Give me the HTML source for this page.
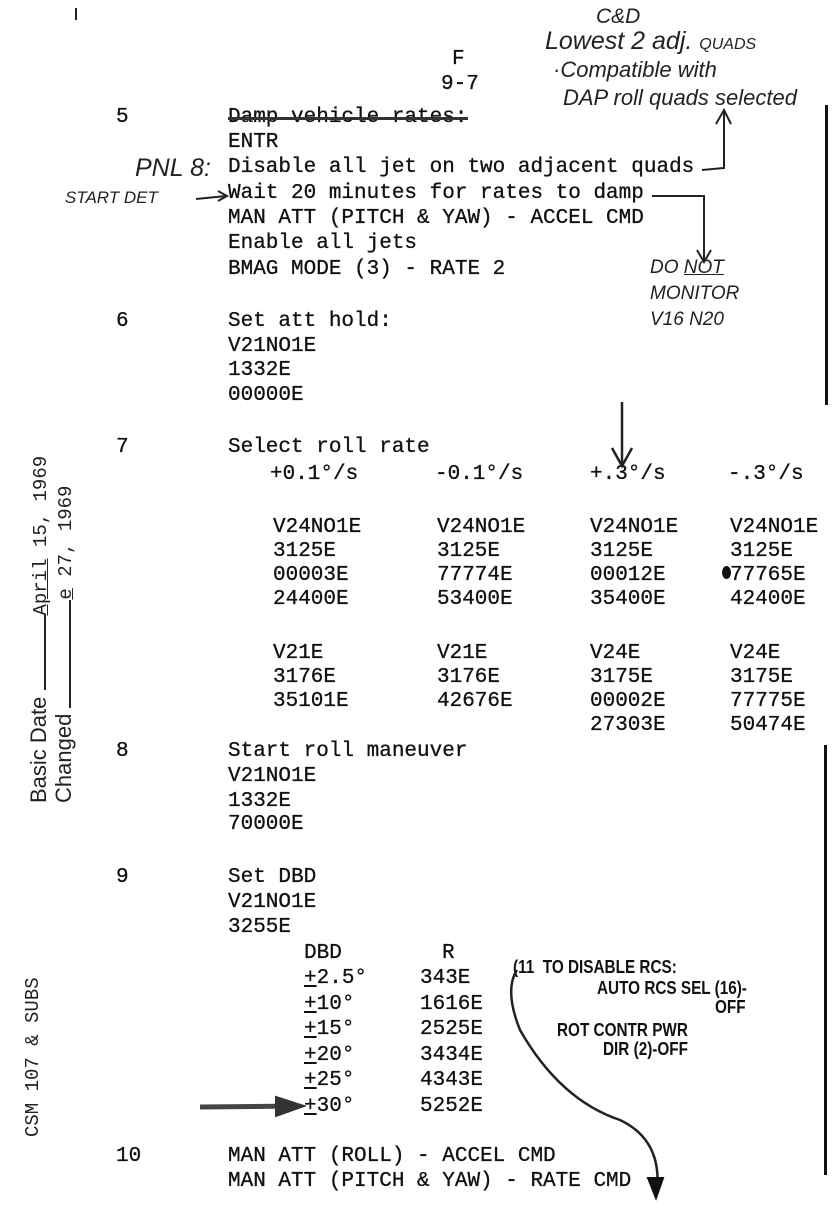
<!DOCTYPE html>
<html><head><meta charset="utf-8"><style>
html,body{margin:0;padding:0;background:#fff;}
body{width:837px;height:1214px;position:relative;overflow:hidden;color:#111;}
.t{position:absolute;font-family:"Liberation Mono",monospace;font-size:21px;line-height:24px;white-space:pre;letter-spacing:0px;color:#111;-webkit-text-stroke:0.3px #111;}
.h{position:absolute;font-family:"Liberation Sans",sans-serif;font-style:italic;white-space:pre;color:#222;line-height:1;}
.hb{position:absolute;font-family:"Liberation Sans",sans-serif;font-weight:bold;white-space:pre;color:#111;line-height:1;font-size:18px;transform:scaleX(0.85);transform-origin:left center;}
</style></head><body>
<div class="t" style="left:452px;top:48px;">F</div>
<div class="t" style="left:441px;top:73px;">9-7</div>
<div style="position:absolute;left:75px;top:8px;width:2px;height:12px;background:#222"></div>

<!-- step 5 -->
<div class="t" style="left:116px;top:106px;">5</div>
<div class="t" style="left:228px;top:106px;">Damp vehicle rates:</div>
<div style="position:absolute;left:228px;top:117px;width:240px;height:3px;background:#333"></div>
<div class="t" style="left:228px;top:131px;">ENTR</div>
<div class="t" style="left:228px;top:156px;">Disable all jet on two adjacent quads</div>
<div class="t" style="left:228px;top:182px;">Wait 20 minutes for rates to damp</div>
<div class="t" style="left:228px;top:207px;">MAN ATT (PITCH &amp; YAW) - ACCEL CMD</div>
<div class="t" style="left:228px;top:232px;">Enable all jets</div>
<div class="t" style="left:228px;top:258px;">BMAG MODE (3) - RATE 2</div>

<!-- step 6 -->
<div class="t" style="left:116px;top:310px;">6</div>
<div class="t" style="left:228px;top:310px;">Set att hold:</div>
<div class="t" style="left:228px;top:335px;">V21NO1E</div>
<div class="t" style="left:228px;top:359px;">1332E</div>
<div class="t" style="left:228px;top:384px;">00000E</div>

<!-- step 7 -->
<div class="t" style="left:116px;top:436px;">7</div>
<div class="t" style="left:228px;top:436px;">Select roll rate</div>
<div class="t" style="left:270px;top:463px;">+0.1°/s</div>
<div class="t" style="left:435px;top:463px;">-0.1°/s</div>
<div class="t" style="left:590px;top:463px;">+.3°/s</div>
<div class="t" style="left:728px;top:463px;">-.3°/s</div>

<div class="t" style="left:273px;top:516px;">V24NO1E
3125E
00003E
24400E</div>
<div class="t" style="left:437px;top:516px;">V24NO1E
3125E
77774E
53400E</div>
<div class="t" style="left:590px;top:516px;">V24NO1E
3125E
00012E
35400E</div>
<div class="t" style="left:730px;top:516px;">V24NO1E
3125E
77765E
42400E</div>
<div style="position:absolute;left:722px;top:566px;width:9px;height:13px;border-radius:50%;background:#111"></div>

<div class="t" style="left:273px;top:642px;">V21E
3176E
35101E</div>
<div class="t" style="left:437px;top:642px;">V21E
3176E
42676E</div>
<div class="t" style="left:590px;top:642px;">V24E
3175E
00002E
27303E</div>
<div class="t" style="left:730px;top:642px;">V24E
3175E
77775E
50474E</div>

<!-- step 8 -->
<div class="t" style="left:116px;top:740px;">8</div>
<div class="t" style="left:228px;top:740px;">Start roll maneuver</div>
<div class="t" style="left:228px;top:765px;">V21NO1E</div>
<div class="t" style="left:228px;top:790px;">1332E</div>
<div class="t" style="left:228px;top:813px;">70000E</div>

<!-- step 9 -->
<div class="t" style="left:116px;top:866px;">9</div>
<div class="t" style="left:228px;top:866px;">Set DBD</div>
<div class="t" style="left:228px;top:891px;">V21NO1E</div>
<div class="t" style="left:228px;top:916px;">3255E</div>
<div class="t" style="left:304px;top:942px;">DBD</div>
<div class="t" style="left:442px;top:942px;">R</div>
<div class="t" style="left:304px;top:966px;line-height:25.5px;"><u>+</u>2.5°
<u>+</u>10°
<u>+</u>15°
<u>+</u>20°
<u>+</u>25°
<u>+</u>30°</div>
<div class="t" style="left:420px;top:966px;line-height:25.5px;">343E
1616E
2525E
3434E
4343E
5252E</div>

<!-- step 10 -->
<div class="t" style="left:116px;top:1145px;">10</div>
<div class="t" style="left:228px;top:1145px;">MAN ATT (ROLL) - ACCEL CMD</div>
<div class="t" style="left:228px;top:1170px;">MAN ATT (PITCH &amp; YAW) - RATE CMD</div>

<!-- right bars -->
<div style="position:absolute;left:825px;top:105px;width:3px;height:300px;background:#111"></div>
<div style="position:absolute;left:824px;top:745px;width:3px;height:430px;background:#111"></div>

<!-- left margin rotated -->
<div style="position:absolute;left:27px;top:803px;transform:rotate(-90deg);transform-origin:0 0;white-space:pre;font-family:'Liberation Sans',sans-serif;font-size:22px;line-height:24px;color:#222;">Basic Date <span style="display:inline-block;width:75px;border-bottom:2px solid #222;height:14px;"></span><span style="font-family:'Liberation Mono',monospace;font-size:19px;"><u>April</u> 15, 1969</span></div>
<div style="position:absolute;left:52px;top:803px;transform:rotate(-90deg);transform-origin:0 0;white-space:pre;font-family:'Liberation Sans',sans-serif;font-size:22px;line-height:24px;color:#222;">Changed <span style="display:inline-block;width:108px;border-bottom:2px solid #222;height:14px;"></span><span style="font-family:'Liberation Mono',monospace;font-size:19px;"><u>e</u> 27, 1969</span></div>
<div style="position:absolute;left:22px;top:1137px;transform:rotate(-90deg);transform-origin:0 0;white-space:pre;font-family:'Liberation Mono',monospace;font-size:19px;line-height:22px;color:#222;">CSM 107 &amp; SUBS</div>

<!-- handwriting -->
<div class="h" style="left:596px;top:6px;font-size:21px;">C&amp;D</div>
<div class="h" style="left:545px;top:29px;font-size:25px;">Lowest 2 adj. <span style="font-size:16px">QUADS</span></div>
<div class="h" style="left:553px;top:59px;font-size:22px;">·Compatible with</div>
<div class="h" style="left:563px;top:87px;font-size:22px;">DAP roll quads selected</div>
<div class="h" style="left:135px;top:156px;font-size:25px;">PNL 8:</div>
<div class="h" style="left:65px;top:189px;font-size:17px;">START DET</div>
<div class="h" style="left:650px;top:258px;font-size:19px;">DO <u>NOT</u></div>
<div class="h" style="left:650px;top:284px;font-size:19px;">MONITOR</div>
<div class="h" style="left:650px;top:310px;font-size:19px;">V16 N20</div>

<div class="hb" style="left:513px;top:958px;">(11  TO DISABLE RCS:</div>
<div class="hb" style="left:597px;top:979px;">AUTO RCS SEL (16)-</div>
<div class="hb" style="left:715px;top:998px;">OFF</div>
<div class="hb" style="left:557px;top:1021px;">ROT CONTR PWR</div>
<div class="hb" style="left:603px;top:1040px;">DIR (2)-OFF</div>

<svg width="837" height="1214" style="position:absolute;left:0;top:0" fill="none" stroke="#222" stroke-width="2">
  <path d="M702 170 L724 168 L724 112"/>
  <path d="M716 124 L724 110 L731 124"/>
  <path d="M652 196 L704 196 L704 262"/>
  <path d="M697 250 L704 262 L711 250"/>
  <path d="M196 199 L226 196"/>
  <path d="M218 191 L227 196 L218 201"/>
  <path d="M622 402 L622 464" stroke-width="2.5"/>
  <path d="M612 448 L622 466 L632 448" stroke-width="2.5"/>
  <path d="M200 1107 L298 1106" stroke-width="5" stroke="#444"/>
  <path d="M276 1097 L304 1106 L276 1116 Z" fill="#333" stroke="#333"/>
  <path d="M517 970 Q504 990 520 1030 Q560 1100 620 1120 Q662 1140 657 1190" stroke-width="2.5"/>
  <path d="M648 1178 L656 1198 L663 1178 Z" fill="#111" stroke="#111"/>
</svg>
</body></html>
